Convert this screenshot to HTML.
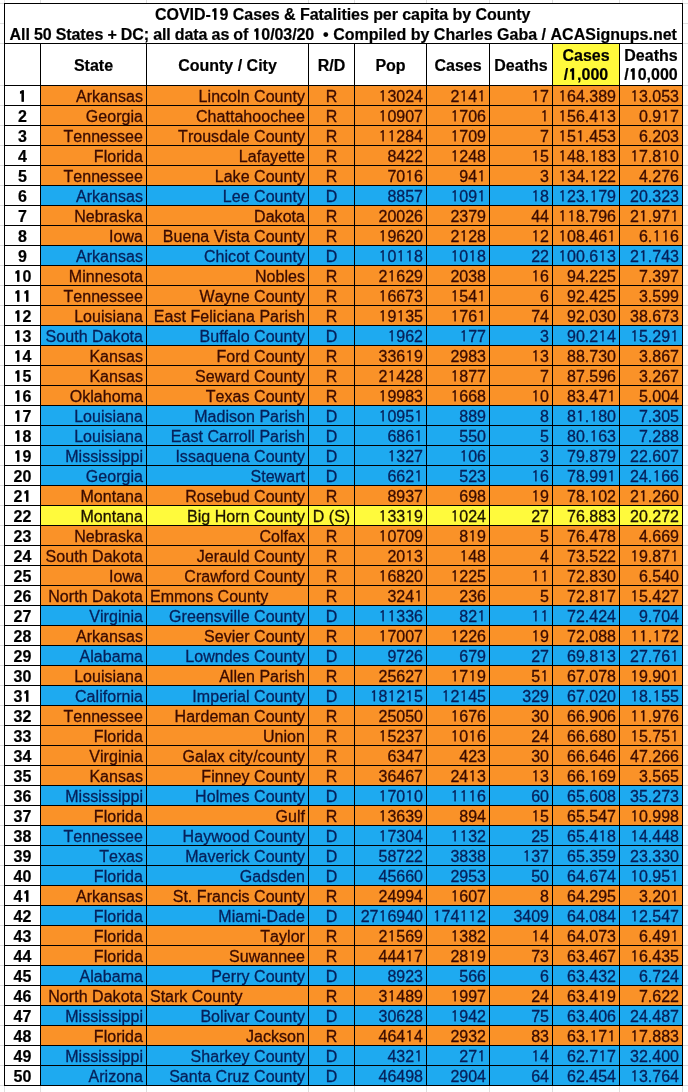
<!DOCTYPE html>
<html lang="en"><head><meta charset="utf-8"><title>COVID-19 Cases &amp; Fatalities per capita by County</title>
<style>
html,body{margin:0;padding:0;background:#fff;}
body{width:688px;height:1092px;position:relative;overflow:hidden;font-kerning:none;font-family:"Liberation Sans",Arial,Helvetica,sans-serif;font-size:16px;color:#000;}
div{position:absolute;box-sizing:border-box;white-space:nowrap;}
.g{background:#dedede;}
.l{background:#000;}
i{font-style:normal;font-family:"IPAGothic","Liberation Sans",sans-serif;display:inline-block;font-size:.97em;width:.5734em;text-align:center;letter-spacing:0;line-height:0;}
.n i,.h i,.t i{-webkit-text-stroke:0.55px #000;font-size:.94em;width:.5917em;}
.bg{left:41px;width:641px;height:19px;}
.o{background:#fa9228;}.b{background:#1eaaf0;}.y{background:#fffa3c;}
.c{height:19px;line-height:20px;overflow:visible;padding-top:1px;-webkit-text-stroke:0.3px;}
.to{color:#3a0b00;}.tb{color:#06205a;}.ty{color:#1c1400;}
.n{left:5px;width:35px;text-align:center;font-weight:bold;-webkit-text-stroke:0.2px #000;}
.s{left:41px;width:105px;text-align:right;padding-right:3px;letter-spacing:0.04px;}
.k{left:147px;width:161px;text-align:right;padding-right:3px;letter-spacing:0.04px;}
.kl{left:147px;width:161px;text-align:left;padding-left:3px;}
.r{left:309px;width:45px;text-align:center;}
.p{left:355px;width:71px;text-align:right;padding-right:3px;}
.cs{left:427px;width:62px;text-align:right;padding-right:3px;}
.d{left:490px;width:62px;text-align:right;padding-right:3px;}
.c1{left:553px;width:66px;text-align:right;padding-right:3px;}
.d1{left:620px;width:62px;text-align:right;padding-right:3px;}
.h{font-weight:bold;text-align:center;top:44px;height:41px;line-height:19px;-webkit-text-stroke:0.2px #000;white-space:normal;}
.t{left:5px;width:677px;text-align:center;font-weight:bold;line-height:19px;height:19px;-webkit-text-stroke:0.2px #000;}
</style></head><body>

<div class="g" style="left:4px;top:0;width:1px;height:1092px"></div>
<div class="g" style="left:40px;top:0;width:1px;height:1092px"></div>
<div class="g" style="left:146px;top:0;width:1px;height:1092px"></div>
<div class="g" style="left:308px;top:0;width:1px;height:1092px"></div>
<div class="g" style="left:354px;top:0;width:1px;height:1092px"></div>
<div class="g" style="left:426px;top:0;width:1px;height:1092px"></div>
<div class="g" style="left:489px;top:0;width:1px;height:1092px"></div>
<div class="g" style="left:552px;top:0;width:1px;height:1092px"></div>
<div class="g" style="left:619px;top:0;width:1px;height:1092px"></div>
<div class="g" style="left:682px;top:0;width:1px;height:1092px"></div>
<div class="g" style="left:0;top:3px;width:688px;height:1px"></div>
<div class="g" style="left:0;top:23px;width:688px;height:1px"></div>
<div class="g" style="left:0;top:43px;width:688px;height:1px"></div>
<div class="g" style="left:0;top:85px;width:688px;height:1px"></div>
<div class="g" style="left:0;top:105px;width:688px;height:1px"></div>
<div class="g" style="left:0;top:125px;width:688px;height:1px"></div>
<div class="g" style="left:0;top:145px;width:688px;height:1px"></div>
<div class="g" style="left:0;top:165px;width:688px;height:1px"></div>
<div class="g" style="left:0;top:185px;width:688px;height:1px"></div>
<div class="g" style="left:0;top:205px;width:688px;height:1px"></div>
<div class="g" style="left:0;top:225px;width:688px;height:1px"></div>
<div class="g" style="left:0;top:245px;width:688px;height:1px"></div>
<div class="g" style="left:0;top:265px;width:688px;height:1px"></div>
<div class="g" style="left:0;top:285px;width:688px;height:1px"></div>
<div class="g" style="left:0;top:305px;width:688px;height:1px"></div>
<div class="g" style="left:0;top:325px;width:688px;height:1px"></div>
<div class="g" style="left:0;top:345px;width:688px;height:1px"></div>
<div class="g" style="left:0;top:365px;width:688px;height:1px"></div>
<div class="g" style="left:0;top:385px;width:688px;height:1px"></div>
<div class="g" style="left:0;top:405px;width:688px;height:1px"></div>
<div class="g" style="left:0;top:425px;width:688px;height:1px"></div>
<div class="g" style="left:0;top:445px;width:688px;height:1px"></div>
<div class="g" style="left:0;top:465px;width:688px;height:1px"></div>
<div class="g" style="left:0;top:485px;width:688px;height:1px"></div>
<div class="g" style="left:0;top:505px;width:688px;height:1px"></div>
<div class="g" style="left:0;top:525px;width:688px;height:1px"></div>
<div class="g" style="left:0;top:545px;width:688px;height:1px"></div>
<div class="g" style="left:0;top:565px;width:688px;height:1px"></div>
<div class="g" style="left:0;top:585px;width:688px;height:1px"></div>
<div class="g" style="left:0;top:605px;width:688px;height:1px"></div>
<div class="g" style="left:0;top:625px;width:688px;height:1px"></div>
<div class="g" style="left:0;top:645px;width:688px;height:1px"></div>
<div class="g" style="left:0;top:665px;width:688px;height:1px"></div>
<div class="g" style="left:0;top:685px;width:688px;height:1px"></div>
<div class="g" style="left:0;top:705px;width:688px;height:1px"></div>
<div class="g" style="left:0;top:725px;width:688px;height:1px"></div>
<div class="g" style="left:0;top:745px;width:688px;height:1px"></div>
<div class="g" style="left:0;top:765px;width:688px;height:1px"></div>
<div class="g" style="left:0;top:785px;width:688px;height:1px"></div>
<div class="g" style="left:0;top:805px;width:688px;height:1px"></div>
<div class="g" style="left:0;top:825px;width:688px;height:1px"></div>
<div class="g" style="left:0;top:845px;width:688px;height:1px"></div>
<div class="g" style="left:0;top:865px;width:688px;height:1px"></div>
<div class="g" style="left:0;top:885px;width:688px;height:1px"></div>
<div class="g" style="left:0;top:905px;width:688px;height:1px"></div>
<div class="g" style="left:0;top:925px;width:688px;height:1px"></div>
<div class="g" style="left:0;top:945px;width:688px;height:1px"></div>
<div class="g" style="left:0;top:965px;width:688px;height:1px"></div>
<div class="g" style="left:0;top:985px;width:688px;height:1px"></div>
<div class="g" style="left:0;top:1005px;width:688px;height:1px"></div>
<div class="g" style="left:0;top:1025px;width:688px;height:1px"></div>
<div class="g" style="left:0;top:1045px;width:688px;height:1px"></div>
<div class="g" style="left:0;top:1065px;width:688px;height:1px"></div>
<div class="g" style="left:0;top:1085px;width:688px;height:1px"></div>
<div style="left:4px;top:3px;width:679px;height:1083px;background:#fff"></div>
<div class="y" style="left:553px;top:44px;width:66px;height:41px"></div>
<div class="bg o" style="top:86px"></div>
<div class="bg o" style="top:106px"></div>
<div class="bg o" style="top:126px"></div>
<div class="bg o" style="top:146px"></div>
<div class="bg o" style="top:166px"></div>
<div class="bg b" style="top:186px"></div>
<div class="bg o" style="top:206px"></div>
<div class="bg o" style="top:226px"></div>
<div class="bg b" style="top:246px"></div>
<div class="bg o" style="top:266px"></div>
<div class="bg o" style="top:286px"></div>
<div class="bg o" style="top:306px"></div>
<div class="bg b" style="top:326px"></div>
<div class="bg o" style="top:346px"></div>
<div class="bg o" style="top:366px"></div>
<div class="bg o" style="top:386px"></div>
<div class="bg b" style="top:406px"></div>
<div class="bg b" style="top:426px"></div>
<div class="bg b" style="top:446px"></div>
<div class="bg b" style="top:466px"></div>
<div class="bg o" style="top:486px"></div>
<div class="bg y" style="top:506px"></div>
<div class="bg o" style="top:526px"></div>
<div class="bg o" style="top:546px"></div>
<div class="bg o" style="top:566px"></div>
<div class="bg o" style="top:586px"></div>
<div class="bg b" style="top:606px"></div>
<div class="bg o" style="top:626px"></div>
<div class="bg b" style="top:646px"></div>
<div class="bg o" style="top:666px"></div>
<div class="bg b" style="top:686px"></div>
<div class="bg o" style="top:706px"></div>
<div class="bg o" style="top:726px"></div>
<div class="bg o" style="top:746px"></div>
<div class="bg o" style="top:766px"></div>
<div class="bg b" style="top:786px"></div>
<div class="bg o" style="top:806px"></div>
<div class="bg b" style="top:826px"></div>
<div class="bg b" style="top:846px"></div>
<div class="bg b" style="top:866px"></div>
<div class="bg o" style="top:886px"></div>
<div class="bg b" style="top:906px"></div>
<div class="bg o" style="top:926px"></div>
<div class="bg o" style="top:946px"></div>
<div class="bg b" style="top:966px"></div>
<div class="bg o" style="top:986px"></div>
<div class="bg b" style="top:1006px"></div>
<div class="bg o" style="top:1026px"></div>
<div class="bg b" style="top:1046px"></div>
<div class="bg b" style="top:1066px"></div>
<div class="l" style="left:4px;top:3px;width:679px;height:1px"></div>
<div class="l" style="left:4px;top:43px;width:679px;height:1px"></div>
<div class="l" style="left:4px;top:85px;width:679px;height:1px"></div>
<div class="l" style="left:4px;top:105px;width:679px;height:1px"></div>
<div class="l" style="left:4px;top:125px;width:679px;height:1px"></div>
<div class="l" style="left:4px;top:145px;width:679px;height:1px"></div>
<div class="l" style="left:4px;top:165px;width:679px;height:1px"></div>
<div class="l" style="left:4px;top:185px;width:679px;height:1px"></div>
<div class="l" style="left:4px;top:205px;width:679px;height:1px"></div>
<div class="l" style="left:4px;top:225px;width:679px;height:1px"></div>
<div class="l" style="left:4px;top:245px;width:679px;height:1px"></div>
<div class="l" style="left:4px;top:265px;width:679px;height:1px"></div>
<div class="l" style="left:4px;top:285px;width:679px;height:1px"></div>
<div class="l" style="left:4px;top:305px;width:679px;height:1px"></div>
<div class="l" style="left:4px;top:325px;width:679px;height:1px"></div>
<div class="l" style="left:4px;top:345px;width:679px;height:1px"></div>
<div class="l" style="left:4px;top:365px;width:679px;height:1px"></div>
<div class="l" style="left:4px;top:385px;width:679px;height:1px"></div>
<div class="l" style="left:4px;top:405px;width:679px;height:1px"></div>
<div class="l" style="left:4px;top:425px;width:679px;height:1px"></div>
<div class="l" style="left:4px;top:445px;width:679px;height:1px"></div>
<div class="l" style="left:4px;top:465px;width:679px;height:1px"></div>
<div class="l" style="left:4px;top:485px;width:679px;height:1px"></div>
<div class="l" style="left:4px;top:505px;width:679px;height:1px"></div>
<div class="l" style="left:4px;top:525px;width:679px;height:1px"></div>
<div class="l" style="left:4px;top:545px;width:679px;height:1px"></div>
<div class="l" style="left:4px;top:565px;width:679px;height:1px"></div>
<div class="l" style="left:4px;top:585px;width:679px;height:1px"></div>
<div class="l" style="left:4px;top:605px;width:679px;height:1px"></div>
<div class="l" style="left:4px;top:625px;width:679px;height:1px"></div>
<div class="l" style="left:4px;top:645px;width:679px;height:1px"></div>
<div class="l" style="left:4px;top:665px;width:679px;height:1px"></div>
<div class="l" style="left:4px;top:685px;width:679px;height:1px"></div>
<div class="l" style="left:4px;top:705px;width:679px;height:1px"></div>
<div class="l" style="left:4px;top:725px;width:679px;height:1px"></div>
<div class="l" style="left:4px;top:745px;width:679px;height:1px"></div>
<div class="l" style="left:4px;top:765px;width:679px;height:1px"></div>
<div class="l" style="left:4px;top:785px;width:679px;height:1px"></div>
<div class="l" style="left:4px;top:805px;width:679px;height:1px"></div>
<div class="l" style="left:4px;top:825px;width:679px;height:1px"></div>
<div class="l" style="left:4px;top:845px;width:679px;height:1px"></div>
<div class="l" style="left:4px;top:865px;width:679px;height:1px"></div>
<div class="l" style="left:4px;top:885px;width:679px;height:1px"></div>
<div class="l" style="left:4px;top:905px;width:679px;height:1px"></div>
<div class="l" style="left:4px;top:925px;width:679px;height:1px"></div>
<div class="l" style="left:4px;top:945px;width:679px;height:1px"></div>
<div class="l" style="left:4px;top:965px;width:679px;height:1px"></div>
<div class="l" style="left:4px;top:985px;width:679px;height:1px"></div>
<div class="l" style="left:4px;top:1005px;width:679px;height:1px"></div>
<div class="l" style="left:4px;top:1025px;width:679px;height:1px"></div>
<div class="l" style="left:4px;top:1045px;width:679px;height:1px"></div>
<div class="l" style="left:4px;top:1065px;width:679px;height:1px"></div>
<div class="l" style="left:4px;top:1085px;width:679px;height:1px"></div>
<div class="l" style="left:4px;top:3px;width:1px;height:1083px"></div>
<div class="l" style="left:682px;top:3px;width:1px;height:1083px"></div>
<div class="l" style="left:40px;top:43px;width:1px;height:1043px"></div>
<div class="l" style="left:146px;top:43px;width:1px;height:1043px"></div>
<div class="l" style="left:308px;top:43px;width:1px;height:1043px"></div>
<div class="l" style="left:354px;top:43px;width:1px;height:1043px"></div>
<div class="l" style="left:426px;top:43px;width:1px;height:1043px"></div>
<div class="l" style="left:489px;top:43px;width:1px;height:1043px"></div>
<div class="l" style="left:552px;top:43px;width:1px;height:1043px"></div>
<div class="l" style="left:619px;top:43px;width:1px;height:1043px"></div>
<div class="t" id="t1" style="top:5px;left:155px;width:auto;text-align:left;letter-spacing:-0.055px">COVID-<i>1</i>9 Cases &amp; Fatalities per capita by County</div>
<div class="t" id="t2" style="top:25px;left:9.6px;width:auto;text-align:left;letter-spacing:-0.09px;word-spacing:-0.18px">All 50 States + DC; all data as of <i>1</i>0/03/20</div>
<div class="t" id="t3" style="top:25px;left:323px;width:auto;text-align:left">&bull;</div>
<div class="t" id="t4" style="top:25px;left:333.2px;width:auto;text-align:left;letter-spacing:0.015px">Compiled by Charles Gaba / ACASignups.net</div>
<div class="h" style="left:41px;width:105px;padding-top:12px"><span>State</span></div>
<div class="h" style="left:147px;width:161px;padding-top:12px"><span>County / City</span></div>
<div class="h" style="left:309px;width:45px;padding-top:12px"><span>R/D</span></div>
<div class="h" style="left:355px;width:71px;padding-top:12px"><span>Pop</span></div>
<div class="h" style="left:427px;width:62px;padding-top:12px"><span>Cases</span></div>
<div class="h" style="left:490px;width:62px;padding-top:12px"><span>Deaths</span></div>
<div class="h" style="left:553px;width:66px;padding-top:2px"><span>Cases<br>/<i>1</i>,000</span></div>
<div class="h" style="left:620px;width:62px;padding-top:2px"><span>Deaths<br>/<i>1</i>0,000</span></div>
<div class="c n" style="top:86px"><i>1</i></div>
<div class="c s to" style="top:86px">Arkansas</div>
<div class="c k to" style="top:86px">Lincoln County</div>
<div class="c r to" style="top:86px">R</div>
<div class="c p to" style="top:86px"><i>1</i>3024</div>
<div class="c cs to" style="top:86px">2<i>1</i>4<i>1</i></div>
<div class="c d to" style="top:86px"><i>1</i>7</div>
<div class="c c1 to" style="top:86px"><i>1</i>64.389</div>
<div class="c d1 to" style="top:86px"><i>1</i>3.053</div>
<div class="c n" style="top:106px">2</div>
<div class="c s to" style="top:106px">Georgia</div>
<div class="c k to" style="top:106px">Chattahoochee</div>
<div class="c r to" style="top:106px">R</div>
<div class="c p to" style="top:106px"><i>1</i>0907</div>
<div class="c cs to" style="top:106px"><i>1</i>706</div>
<div class="c d to" style="top:106px"><i>1</i></div>
<div class="c c1 to" style="top:106px"><i>1</i>56.4<i>1</i>3</div>
<div class="c d1 to" style="top:106px">0.9<i>1</i>7</div>
<div class="c n" style="top:126px">3</div>
<div class="c s to" style="top:126px">Tennessee</div>
<div class="c k to" style="top:126px">Trousdale County</div>
<div class="c r to" style="top:126px">R</div>
<div class="c p to" style="top:126px"><i>1</i><i>1</i>284</div>
<div class="c cs to" style="top:126px"><i>1</i>709</div>
<div class="c d to" style="top:126px">7</div>
<div class="c c1 to" style="top:126px"><i>1</i>5<i>1</i>.453</div>
<div class="c d1 to" style="top:126px">6.203</div>
<div class="c n" style="top:146px">4</div>
<div class="c s to" style="top:146px">Florida</div>
<div class="c k to" style="top:146px">Lafayette</div>
<div class="c r to" style="top:146px">R</div>
<div class="c p to" style="top:146px">8422</div>
<div class="c cs to" style="top:146px"><i>1</i>248</div>
<div class="c d to" style="top:146px"><i>1</i>5</div>
<div class="c c1 to" style="top:146px"><i>1</i>48.<i>1</i>83</div>
<div class="c d1 to" style="top:146px"><i>1</i>7.8<i>1</i>0</div>
<div class="c n" style="top:166px">5</div>
<div class="c s to" style="top:166px">Tennessee</div>
<div class="c k to" style="top:166px">Lake County</div>
<div class="c r to" style="top:166px">R</div>
<div class="c p to" style="top:166px">70<i>1</i>6</div>
<div class="c cs to" style="top:166px">94<i>1</i></div>
<div class="c d to" style="top:166px">3</div>
<div class="c c1 to" style="top:166px"><i>1</i>34.<i>1</i>22</div>
<div class="c d1 to" style="top:166px">4.276</div>
<div class="c n" style="top:186px">6</div>
<div class="c s tb" style="top:186px">Arkansas</div>
<div class="c k tb" style="top:186px">Lee County</div>
<div class="c r tb" style="top:186px">D</div>
<div class="c p tb" style="top:186px">8857</div>
<div class="c cs tb" style="top:186px"><i>1</i>09<i>1</i></div>
<div class="c d tb" style="top:186px"><i>1</i>8</div>
<div class="c c1 tb" style="top:186px"><i>1</i>23.<i>1</i>79</div>
<div class="c d1 tb" style="top:186px">20.323</div>
<div class="c n" style="top:206px">7</div>
<div class="c s to" style="top:206px">Nebraska</div>
<div class="c k to" style="top:206px">Dakota</div>
<div class="c r to" style="top:206px">R</div>
<div class="c p to" style="top:206px">20026</div>
<div class="c cs to" style="top:206px">2379</div>
<div class="c d to" style="top:206px">44</div>
<div class="c c1 to" style="top:206px"><i>1</i><i>1</i>8.796</div>
<div class="c d1 to" style="top:206px">2<i>1</i>.97<i>1</i></div>
<div class="c n" style="top:226px">8</div>
<div class="c s to" style="top:226px">Iowa</div>
<div class="c k to" style="top:226px">Buena Vista County</div>
<div class="c r to" style="top:226px">R</div>
<div class="c p to" style="top:226px"><i>1</i>9620</div>
<div class="c cs to" style="top:226px">2<i>1</i>28</div>
<div class="c d to" style="top:226px"><i>1</i>2</div>
<div class="c c1 to" style="top:226px"><i>1</i>08.46<i>1</i></div>
<div class="c d1 to" style="top:226px">6.<i>1</i><i>1</i>6</div>
<div class="c n" style="top:246px">9</div>
<div class="c s tb" style="top:246px">Arkansas</div>
<div class="c k tb" style="top:246px">Chicot County</div>
<div class="c r tb" style="top:246px">D</div>
<div class="c p tb" style="top:246px"><i>1</i>0<i>1</i><i>1</i>8</div>
<div class="c cs tb" style="top:246px"><i>1</i>0<i>1</i>8</div>
<div class="c d tb" style="top:246px">22</div>
<div class="c c1 tb" style="top:246px"><i>1</i>00.6<i>1</i>3</div>
<div class="c d1 tb" style="top:246px">2<i>1</i>.743</div>
<div class="c n" style="top:266px"><i>1</i>0</div>
<div class="c s to" style="top:266px">Minnesota</div>
<div class="c k to" style="top:266px">Nobles</div>
<div class="c r to" style="top:266px">R</div>
<div class="c p to" style="top:266px">2<i>1</i>629</div>
<div class="c cs to" style="top:266px">2038</div>
<div class="c d to" style="top:266px"><i>1</i>6</div>
<div class="c c1 to" style="top:266px">94.225</div>
<div class="c d1 to" style="top:266px">7.397</div>
<div class="c n" style="top:286px"><i>1</i><i>1</i></div>
<div class="c s to" style="top:286px">Tennessee</div>
<div class="c k to" style="top:286px">Wayne County</div>
<div class="c r to" style="top:286px">R</div>
<div class="c p to" style="top:286px"><i>1</i>6673</div>
<div class="c cs to" style="top:286px"><i>1</i>54<i>1</i></div>
<div class="c d to" style="top:286px">6</div>
<div class="c c1 to" style="top:286px">92.425</div>
<div class="c d1 to" style="top:286px">3.599</div>
<div class="c n" style="top:306px"><i>1</i>2</div>
<div class="c s to" style="top:306px">Louisiana</div>
<div class="c k to" style="top:306px">East Feliciana Parish</div>
<div class="c r to" style="top:306px">R</div>
<div class="c p to" style="top:306px"><i>1</i>9<i>1</i>35</div>
<div class="c cs to" style="top:306px"><i>1</i>76<i>1</i></div>
<div class="c d to" style="top:306px">74</div>
<div class="c c1 to" style="top:306px">92.030</div>
<div class="c d1 to" style="top:306px">38.673</div>
<div class="c n" style="top:326px"><i>1</i>3</div>
<div class="c s tb" style="top:326px">South Dakota</div>
<div class="c k tb" style="top:326px">Buffalo County</div>
<div class="c r tb" style="top:326px">D</div>
<div class="c p tb" style="top:326px"><i>1</i>962</div>
<div class="c cs tb" style="top:326px"><i>1</i>77</div>
<div class="c d tb" style="top:326px">3</div>
<div class="c c1 tb" style="top:326px">90.2<i>1</i>4</div>
<div class="c d1 tb" style="top:326px"><i>1</i>5.29<i>1</i></div>
<div class="c n" style="top:346px"><i>1</i>4</div>
<div class="c s to" style="top:346px">Kansas</div>
<div class="c k to" style="top:346px">Ford County</div>
<div class="c r to" style="top:346px">R</div>
<div class="c p to" style="top:346px">336<i>1</i>9</div>
<div class="c cs to" style="top:346px">2983</div>
<div class="c d to" style="top:346px"><i>1</i>3</div>
<div class="c c1 to" style="top:346px">88.730</div>
<div class="c d1 to" style="top:346px">3.867</div>
<div class="c n" style="top:366px"><i>1</i>5</div>
<div class="c s to" style="top:366px">Kansas</div>
<div class="c k to" style="top:366px">Seward County</div>
<div class="c r to" style="top:366px">R</div>
<div class="c p to" style="top:366px">2<i>1</i>428</div>
<div class="c cs to" style="top:366px"><i>1</i>877</div>
<div class="c d to" style="top:366px">7</div>
<div class="c c1 to" style="top:366px">87.596</div>
<div class="c d1 to" style="top:366px">3.267</div>
<div class="c n" style="top:386px"><i>1</i>6</div>
<div class="c s to" style="top:386px">Oklahoma</div>
<div class="c k to" style="top:386px">Texas County</div>
<div class="c r to" style="top:386px">R</div>
<div class="c p to" style="top:386px"><i>1</i>9983</div>
<div class="c cs to" style="top:386px"><i>1</i>668</div>
<div class="c d to" style="top:386px"><i>1</i>0</div>
<div class="c c1 to" style="top:386px">83.47<i>1</i></div>
<div class="c d1 to" style="top:386px">5.004</div>
<div class="c n" style="top:406px"><i>1</i>7</div>
<div class="c s tb" style="top:406px">Louisiana</div>
<div class="c k tb" style="top:406px">Madison Parish</div>
<div class="c r tb" style="top:406px">D</div>
<div class="c p tb" style="top:406px"><i>1</i>095<i>1</i></div>
<div class="c cs tb" style="top:406px">889</div>
<div class="c d tb" style="top:406px">8</div>
<div class="c c1 tb" style="top:406px">8<i>1</i>.<i>1</i>80</div>
<div class="c d1 tb" style="top:406px">7.305</div>
<div class="c n" style="top:426px"><i>1</i>8</div>
<div class="c s tb" style="top:426px">Louisiana</div>
<div class="c k tb" style="top:426px">East Carroll Parish</div>
<div class="c r tb" style="top:426px">D</div>
<div class="c p tb" style="top:426px">686<i>1</i></div>
<div class="c cs tb" style="top:426px">550</div>
<div class="c d tb" style="top:426px">5</div>
<div class="c c1 tb" style="top:426px">80.<i>1</i>63</div>
<div class="c d1 tb" style="top:426px">7.288</div>
<div class="c n" style="top:446px"><i>1</i>9</div>
<div class="c s tb" style="top:446px">Mississippi</div>
<div class="c k tb" style="top:446px">Issaquena County</div>
<div class="c r tb" style="top:446px">D</div>
<div class="c p tb" style="top:446px"><i>1</i>327</div>
<div class="c cs tb" style="top:446px"><i>1</i>06</div>
<div class="c d tb" style="top:446px">3</div>
<div class="c c1 tb" style="top:446px">79.879</div>
<div class="c d1 tb" style="top:446px">22.607</div>
<div class="c n" style="top:466px">20</div>
<div class="c s tb" style="top:466px">Georgia</div>
<div class="c k tb" style="top:466px">Stewart</div>
<div class="c r tb" style="top:466px">D</div>
<div class="c p tb" style="top:466px">662<i>1</i></div>
<div class="c cs tb" style="top:466px">523</div>
<div class="c d tb" style="top:466px"><i>1</i>6</div>
<div class="c c1 tb" style="top:466px">78.99<i>1</i></div>
<div class="c d1 tb" style="top:466px">24.<i>1</i>66</div>
<div class="c n" style="top:486px">2<i>1</i></div>
<div class="c s to" style="top:486px">Montana</div>
<div class="c k to" style="top:486px">Rosebud County</div>
<div class="c r to" style="top:486px">R</div>
<div class="c p to" style="top:486px">8937</div>
<div class="c cs to" style="top:486px">698</div>
<div class="c d to" style="top:486px"><i>1</i>9</div>
<div class="c c1 to" style="top:486px">78.<i>1</i>02</div>
<div class="c d1 to" style="top:486px">2<i>1</i>.260</div>
<div class="c n" style="top:506px">22</div>
<div class="c s ty" style="top:506px">Montana</div>
<div class="c k ty" style="top:506px">Big Horn County</div>
<div class="c r ty" style="top:506px">D (S)</div>
<div class="c p ty" style="top:506px"><i>1</i>33<i>1</i>9</div>
<div class="c cs ty" style="top:506px"><i>1</i>024</div>
<div class="c d ty" style="top:506px">27</div>
<div class="c c1 ty" style="top:506px">76.883</div>
<div class="c d1 ty" style="top:506px">20.272</div>
<div class="c n" style="top:526px">23</div>
<div class="c s to" style="top:526px">Nebraska</div>
<div class="c k to" style="top:526px">Colfax</div>
<div class="c r to" style="top:526px">R</div>
<div class="c p to" style="top:526px"><i>1</i>0709</div>
<div class="c cs to" style="top:526px">8<i>1</i>9</div>
<div class="c d to" style="top:526px">5</div>
<div class="c c1 to" style="top:526px">76.478</div>
<div class="c d1 to" style="top:526px">4.669</div>
<div class="c n" style="top:546px">24</div>
<div class="c s to" style="top:546px">South Dakota</div>
<div class="c k to" style="top:546px">Jerauld County</div>
<div class="c r to" style="top:546px">R</div>
<div class="c p to" style="top:546px">20<i>1</i>3</div>
<div class="c cs to" style="top:546px"><i>1</i>48</div>
<div class="c d to" style="top:546px">4</div>
<div class="c c1 to" style="top:546px">73.522</div>
<div class="c d1 to" style="top:546px"><i>1</i>9.87<i>1</i></div>
<div class="c n" style="top:566px">25</div>
<div class="c s to" style="top:566px">Iowa</div>
<div class="c k to" style="top:566px">Crawford County</div>
<div class="c r to" style="top:566px">R</div>
<div class="c p to" style="top:566px"><i>1</i>6820</div>
<div class="c cs to" style="top:566px"><i>1</i>225</div>
<div class="c d to" style="top:566px"><i>1</i><i>1</i></div>
<div class="c c1 to" style="top:566px">72.830</div>
<div class="c d1 to" style="top:566px">6.540</div>
<div class="c n" style="top:586px">26</div>
<div class="c s to" style="top:586px">North Dakota</div>
<div class="c kl to" style="top:586px">Emmons County</div>
<div class="c r to" style="top:586px">R</div>
<div class="c p to" style="top:586px">324<i>1</i></div>
<div class="c cs to" style="top:586px">236</div>
<div class="c d to" style="top:586px">5</div>
<div class="c c1 to" style="top:586px">72.8<i>1</i>7</div>
<div class="c d1 to" style="top:586px"><i>1</i>5.427</div>
<div class="c n" style="top:606px">27</div>
<div class="c s tb" style="top:606px">Virginia</div>
<div class="c k tb" style="top:606px">Greensville County</div>
<div class="c r tb" style="top:606px">D</div>
<div class="c p tb" style="top:606px"><i>1</i><i>1</i>336</div>
<div class="c cs tb" style="top:606px">82<i>1</i></div>
<div class="c d tb" style="top:606px"><i>1</i><i>1</i></div>
<div class="c c1 tb" style="top:606px">72.424</div>
<div class="c d1 tb" style="top:606px">9.704</div>
<div class="c n" style="top:626px">28</div>
<div class="c s to" style="top:626px">Arkansas</div>
<div class="c k to" style="top:626px">Sevier County</div>
<div class="c r to" style="top:626px">R</div>
<div class="c p to" style="top:626px"><i>1</i>7007</div>
<div class="c cs to" style="top:626px"><i>1</i>226</div>
<div class="c d to" style="top:626px"><i>1</i>9</div>
<div class="c c1 to" style="top:626px">72.088</div>
<div class="c d1 to" style="top:626px"><i>1</i><i>1</i>.<i>1</i>72</div>
<div class="c n" style="top:646px">29</div>
<div class="c s tb" style="top:646px">Alabama</div>
<div class="c k tb" style="top:646px">Lowndes County</div>
<div class="c r tb" style="top:646px">D</div>
<div class="c p tb" style="top:646px">9726</div>
<div class="c cs tb" style="top:646px">679</div>
<div class="c d tb" style="top:646px">27</div>
<div class="c c1 tb" style="top:646px">69.8<i>1</i>3</div>
<div class="c d1 tb" style="top:646px">27.76<i>1</i></div>
<div class="c n" style="top:666px">30</div>
<div class="c s to" style="top:666px">Louisiana</div>
<div class="c k to" style="top:666px">Allen Parish</div>
<div class="c r to" style="top:666px">R</div>
<div class="c p to" style="top:666px">25627</div>
<div class="c cs to" style="top:666px"><i>1</i>7<i>1</i>9</div>
<div class="c d to" style="top:666px">5<i>1</i></div>
<div class="c c1 to" style="top:666px">67.078</div>
<div class="c d1 to" style="top:666px"><i>1</i>9.90<i>1</i></div>
<div class="c n" style="top:686px">3<i>1</i></div>
<div class="c s tb" style="top:686px">California</div>
<div class="c k tb" style="top:686px">Imperial County</div>
<div class="c r tb" style="top:686px">D</div>
<div class="c p tb" style="top:686px"><i>1</i>8<i>1</i>2<i>1</i>5</div>
<div class="c cs tb" style="top:686px"><i>1</i>2<i>1</i>45</div>
<div class="c d tb" style="top:686px">329</div>
<div class="c c1 tb" style="top:686px">67.020</div>
<div class="c d1 tb" style="top:686px"><i>1</i>8.<i>1</i>55</div>
<div class="c n" style="top:706px">32</div>
<div class="c s to" style="top:706px">Tennessee</div>
<div class="c k to" style="top:706px">Hardeman County</div>
<div class="c r to" style="top:706px">R</div>
<div class="c p to" style="top:706px">25050</div>
<div class="c cs to" style="top:706px"><i>1</i>676</div>
<div class="c d to" style="top:706px">30</div>
<div class="c c1 to" style="top:706px">66.906</div>
<div class="c d1 to" style="top:706px"><i>1</i><i>1</i>.976</div>
<div class="c n" style="top:726px">33</div>
<div class="c s to" style="top:726px">Florida</div>
<div class="c k to" style="top:726px">Union</div>
<div class="c r to" style="top:726px">R</div>
<div class="c p to" style="top:726px"><i>1</i>5237</div>
<div class="c cs to" style="top:726px"><i>1</i>0<i>1</i>6</div>
<div class="c d to" style="top:726px">24</div>
<div class="c c1 to" style="top:726px">66.680</div>
<div class="c d1 to" style="top:726px"><i>1</i>5.75<i>1</i></div>
<div class="c n" style="top:746px">34</div>
<div class="c s to" style="top:746px">Virginia</div>
<div class="c k to" style="top:746px">Galax city/county</div>
<div class="c r to" style="top:746px">R</div>
<div class="c p to" style="top:746px">6347</div>
<div class="c cs to" style="top:746px">423</div>
<div class="c d to" style="top:746px">30</div>
<div class="c c1 to" style="top:746px">66.646</div>
<div class="c d1 to" style="top:746px">47.266</div>
<div class="c n" style="top:766px">35</div>
<div class="c s to" style="top:766px">Kansas</div>
<div class="c k to" style="top:766px">Finney County</div>
<div class="c r to" style="top:766px">R</div>
<div class="c p to" style="top:766px">36467</div>
<div class="c cs to" style="top:766px">24<i>1</i>3</div>
<div class="c d to" style="top:766px"><i>1</i>3</div>
<div class="c c1 to" style="top:766px">66.<i>1</i>69</div>
<div class="c d1 to" style="top:766px">3.565</div>
<div class="c n" style="top:786px">36</div>
<div class="c s tb" style="top:786px">Mississippi</div>
<div class="c k tb" style="top:786px">Holmes County</div>
<div class="c r tb" style="top:786px">D</div>
<div class="c p tb" style="top:786px"><i>1</i>70<i>1</i>0</div>
<div class="c cs tb" style="top:786px"><i>1</i><i>1</i><i>1</i>6</div>
<div class="c d tb" style="top:786px">60</div>
<div class="c c1 tb" style="top:786px">65.608</div>
<div class="c d1 tb" style="top:786px">35.273</div>
<div class="c n" style="top:806px">37</div>
<div class="c s to" style="top:806px">Florida</div>
<div class="c k to" style="top:806px">Gulf</div>
<div class="c r to" style="top:806px">R</div>
<div class="c p to" style="top:806px"><i>1</i>3639</div>
<div class="c cs to" style="top:806px">894</div>
<div class="c d to" style="top:806px"><i>1</i>5</div>
<div class="c c1 to" style="top:806px">65.547</div>
<div class="c d1 to" style="top:806px"><i>1</i>0.998</div>
<div class="c n" style="top:826px">38</div>
<div class="c s tb" style="top:826px">Tennessee</div>
<div class="c k tb" style="top:826px">Haywood County</div>
<div class="c r tb" style="top:826px">D</div>
<div class="c p tb" style="top:826px"><i>1</i>7304</div>
<div class="c cs tb" style="top:826px"><i>1</i><i>1</i>32</div>
<div class="c d tb" style="top:826px">25</div>
<div class="c c1 tb" style="top:826px">65.4<i>1</i>8</div>
<div class="c d1 tb" style="top:826px"><i>1</i>4.448</div>
<div class="c n" style="top:846px">39</div>
<div class="c s tb" style="top:846px">Texas</div>
<div class="c k tb" style="top:846px">Maverick County</div>
<div class="c r tb" style="top:846px">D</div>
<div class="c p tb" style="top:846px">58722</div>
<div class="c cs tb" style="top:846px">3838</div>
<div class="c d tb" style="top:846px"><i>1</i>37</div>
<div class="c c1 tb" style="top:846px">65.359</div>
<div class="c d1 tb" style="top:846px">23.330</div>
<div class="c n" style="top:866px">40</div>
<div class="c s tb" style="top:866px">Florida</div>
<div class="c k tb" style="top:866px">Gadsden</div>
<div class="c r tb" style="top:866px">D</div>
<div class="c p tb" style="top:866px">45660</div>
<div class="c cs tb" style="top:866px">2953</div>
<div class="c d tb" style="top:866px">50</div>
<div class="c c1 tb" style="top:866px">64.674</div>
<div class="c d1 tb" style="top:866px"><i>1</i>0.95<i>1</i></div>
<div class="c n" style="top:886px">4<i>1</i></div>
<div class="c s to" style="top:886px">Arkansas</div>
<div class="c k to" style="top:886px">St. Francis County</div>
<div class="c r to" style="top:886px">R</div>
<div class="c p to" style="top:886px">24994</div>
<div class="c cs to" style="top:886px"><i>1</i>607</div>
<div class="c d to" style="top:886px">8</div>
<div class="c c1 to" style="top:886px">64.295</div>
<div class="c d1 to" style="top:886px">3.20<i>1</i></div>
<div class="c n" style="top:906px">42</div>
<div class="c s tb" style="top:906px">Florida</div>
<div class="c k tb" style="top:906px">Miami-Dade</div>
<div class="c r tb" style="top:906px">D</div>
<div class="c p tb" style="top:906px">27<i>1</i>6940</div>
<div class="c cs tb" style="top:906px"><i>1</i>74<i>1</i><i>1</i>2</div>
<div class="c d tb" style="top:906px">3409</div>
<div class="c c1 tb" style="top:906px">64.084</div>
<div class="c d1 tb" style="top:906px"><i>1</i>2.547</div>
<div class="c n" style="top:926px">43</div>
<div class="c s to" style="top:926px">Florida</div>
<div class="c k to" style="top:926px">Taylor</div>
<div class="c r to" style="top:926px">R</div>
<div class="c p to" style="top:926px">2<i>1</i>569</div>
<div class="c cs to" style="top:926px"><i>1</i>382</div>
<div class="c d to" style="top:926px"><i>1</i>4</div>
<div class="c c1 to" style="top:926px">64.073</div>
<div class="c d1 to" style="top:926px">6.49<i>1</i></div>
<div class="c n" style="top:946px">44</div>
<div class="c s to" style="top:946px">Florida</div>
<div class="c k to" style="top:946px">Suwannee</div>
<div class="c r to" style="top:946px">R</div>
<div class="c p to" style="top:946px">444<i>1</i>7</div>
<div class="c cs to" style="top:946px">28<i>1</i>9</div>
<div class="c d to" style="top:946px">73</div>
<div class="c c1 to" style="top:946px">63.467</div>
<div class="c d1 to" style="top:946px"><i>1</i>6.435</div>
<div class="c n" style="top:966px">45</div>
<div class="c s tb" style="top:966px">Alabama</div>
<div class="c k tb" style="top:966px">Perry County</div>
<div class="c r tb" style="top:966px">D</div>
<div class="c p tb" style="top:966px">8923</div>
<div class="c cs tb" style="top:966px">566</div>
<div class="c d tb" style="top:966px">6</div>
<div class="c c1 tb" style="top:966px">63.432</div>
<div class="c d1 tb" style="top:966px">6.724</div>
<div class="c n" style="top:986px">46</div>
<div class="c s to" style="top:986px">North Dakota</div>
<div class="c kl to" style="top:986px">Stark County</div>
<div class="c r to" style="top:986px">R</div>
<div class="c p to" style="top:986px">3<i>1</i>489</div>
<div class="c cs to" style="top:986px"><i>1</i>997</div>
<div class="c d to" style="top:986px">24</div>
<div class="c c1 to" style="top:986px">63.4<i>1</i>9</div>
<div class="c d1 to" style="top:986px">7.622</div>
<div class="c n" style="top:1006px">47</div>
<div class="c s tb" style="top:1006px">Mississippi</div>
<div class="c k tb" style="top:1006px">Bolivar County</div>
<div class="c r tb" style="top:1006px">D</div>
<div class="c p tb" style="top:1006px">30628</div>
<div class="c cs tb" style="top:1006px"><i>1</i>942</div>
<div class="c d tb" style="top:1006px">75</div>
<div class="c c1 tb" style="top:1006px">63.406</div>
<div class="c d1 tb" style="top:1006px">24.487</div>
<div class="c n" style="top:1026px">48</div>
<div class="c s to" style="top:1026px">Florida</div>
<div class="c k to" style="top:1026px">Jackson</div>
<div class="c r to" style="top:1026px">R</div>
<div class="c p to" style="top:1026px">464<i>1</i>4</div>
<div class="c cs to" style="top:1026px">2932</div>
<div class="c d to" style="top:1026px">83</div>
<div class="c c1 to" style="top:1026px">63.<i>1</i>7<i>1</i></div>
<div class="c d1 to" style="top:1026px"><i>1</i>7.883</div>
<div class="c n" style="top:1046px">49</div>
<div class="c s tb" style="top:1046px">Mississippi</div>
<div class="c k tb" style="top:1046px">Sharkey County</div>
<div class="c r tb" style="top:1046px">D</div>
<div class="c p tb" style="top:1046px">432<i>1</i></div>
<div class="c cs tb" style="top:1046px">27<i>1</i></div>
<div class="c d tb" style="top:1046px"><i>1</i>4</div>
<div class="c c1 tb" style="top:1046px">62.7<i>1</i>7</div>
<div class="c d1 tb" style="top:1046px">32.400</div>
<div class="c n" style="top:1066px">50</div>
<div class="c s tb" style="top:1066px">Arizona</div>
<div class="c k tb" style="top:1066px">Santa Cruz County</div>
<div class="c r tb" style="top:1066px">D</div>
<div class="c p tb" style="top:1066px">46498</div>
<div class="c cs tb" style="top:1066px">2904</div>
<div class="c d tb" style="top:1066px">64</div>
<div class="c c1 tb" style="top:1066px">62.454</div>
<div class="c d1 tb" style="top:1066px"><i>1</i>3.764</div>
</body></html>
